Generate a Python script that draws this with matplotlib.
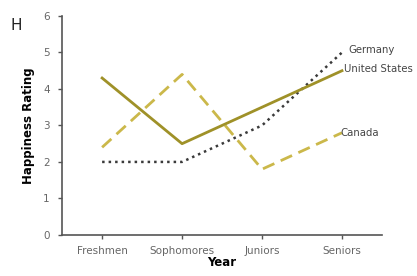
import matplotlib.pyplot as plt

years = ["Freshmen", "Sophomores", "Juniors", "Seniors"]
united_states = [4.3, 2.5, 3.5, 4.5]
canada = [2.4, 4.4, 1.8, 2.8]
germany = [2.0, 2.0, 3.0, 5.0]

x = [0.5, 1.5, 2.5, 3.5]

fig = plt.figure(figsize=(4.17, 2.76), dpi=100)
ax = fig.add_axes([0.149, 0.149, 0.767, 0.793])

ax.plot(x, germany, linestyle=(0, (1, 1.6)), color="#3a3a3a", linewidth=1.8)
ax.plot(x, canada, linestyle=(0, (4.5, 2.5)), color="#cbb84a", linewidth=2)
ax.plot(x, united_states, linestyle="-", color="#9f9128", linewidth=2)

ax.text(3.58, 5.08, "Germany", fontsize=7.3, color="#444444", va="center")
ax.text(3.52, 4.55, "United States", fontsize=7.3, color="#444444", va="center")
ax.text(3.48, 2.8, "Canada", fontsize=7.3, color="#444444", va="center")

ax.set_xlim(0, 4)
ax.set_ylim(0, 6)
ax.set_xticks(x)
ax.set_xticklabels(years)
ax.set_yticks(range(7))
ax.tick_params(labelsize=7.5, labelcolor="#666666", colors="#555555", length=3, width=1)
ax.tick_params(axis="y", pad=6)
ax.tick_params(axis="x", pad=5)
for s in ["top", "right"]:
    ax.spines[s].set_visible(False)
for s in ["left", "bottom"]:
    ax.spines[s].set_color("#555555")
    ax.spines[s].set_linewidth(1.2)

ax.set_xlabel("Year", fontsize=8.5, fontweight="bold", labelpad=0)
ax.set_ylabel("Happiness Rating", fontsize=8.5, fontweight="bold", labelpad=6)
fig.text(0.025, 0.89, "H", fontsize=11, color="#222222")

plt.savefig("out.png", dpi=100)
